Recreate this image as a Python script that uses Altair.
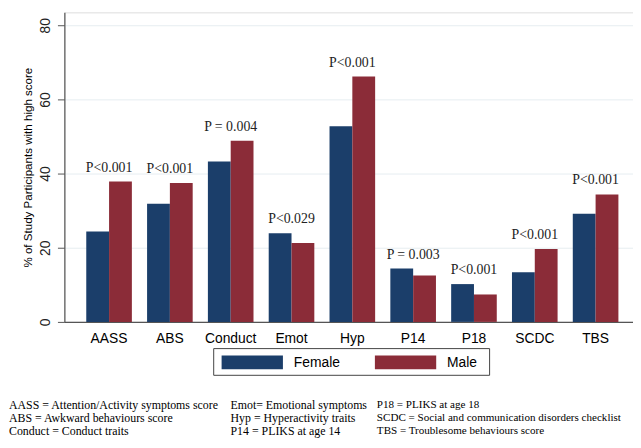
import altair as alt
import pandas as pd

categories = ["AASS", "ABS", "Conduct", "Emot", "Hyp", "P14", "P18", "SCDC", "TBS"]
female = [24.4, 31.9, 43.3, 23.9, 52.8, 14.4, 10.2, 13.4, 29.2]
male = [37.9, 37.5, 48.9, 21.3, 66.2, 12.5, 7.4, 19.7, 34.4]
pvals = ["P<0.001", "P<0.001", "P = 0.004", "P<0.029", "P<0.001",
         "P = 0.003", "P<0.001", "P<0.001", "P<0.001"]
sexes = ["Female", "Male"]
colors = ["#1b3e6a", "#8b2c38"]
y_ticks = [0, 20, 40, 60, 80]

foot_col1 = ["AASS = Attention/Activity  symptoms  score",
             "ABS = Awkward behaviours  score",
             "Conduct = Conduct traits"]
foot_col2 = ["Emot= Emotional  symptoms",
             "Hyp = Hyperactivity  traits",
             "P14 = PLIKS at age 14"]
foot_col3 = ["P18 = PLIKS at age 18",
             "SCDC = Social and communication disorders checklist",
             "TBS = Troublesome  behaviours  score"]

rows = []
for c, f, m in zip(categories, female, male):
    rows.append({"cat": c, "sex": "Female", "val": f})
    rows.append({"cat": c, "sex": "Male", "val": m})
df = pd.DataFrame(rows)
pdf = pd.DataFrame({"cat": categories, "p": pvals,
                    "top": [max(f, m) for f, m in zip(female, male)]})

FONT = "Arial, Liberation Sans"
xscale = alt.Scale(domain=categories, paddingInner=0.25, paddingOuter=0.3, align=0.6)
yscale = alt.Scale(domain=[0, 83.5], nice=False)
cscale = alt.Scale(domain=sexes, range=colors)

bars = alt.Chart(df).mark_bar(stroke=None).encode(
    x=alt.X("cat:N", sort=categories, scale=xscale, title=None,
            axis=alt.Axis(labelAngle=0, labelFont=FONT, labelFontSize=14,
                          labelColor="#000", ticks=False, labelPadding=10,
                          domainColor="#555", domainWidth=1.2)),
    xOffset=alt.XOffset("sex:N", sort=sexes, scale=alt.Scale(paddingInner=0, paddingOuter=0)),
    y=alt.Y("val:Q", scale=yscale,
            title="% of Study Participants with high score",
            axis=alt.Axis(values=y_ticks, labelAngle=270, labelAlign="center",
                          labelBaseline="bottom", labelPadding=5, tickSize=7,
                          tickColor="#555", domainColor="#555", domainWidth=1.2,
                          labelFont=FONT, labelFontSize=14, labelColor="#222",
                          titleFont=FONT, titleFontSize=11.7,
                          titleFontWeight="normal", titleColor="#000", titlePadding=5,
                          gridColor="#e6edf1", gridWidth=1)),
    color=alt.Color("sex:N", sort=sexes, scale=cscale, legend=None),
)

ptext = alt.Chart(pdf).mark_text(font="Liberation Serif", fontSize=14, color="#222",
                                 baseline="bottom", dy=-7).encode(
    x=alt.X("cat:N", sort=categories, scale=xscale),
    y=alt.Y("top:Q", scale=yscale),
    text="p:N",
)

# legend (drawn manually as a framed key below the axis)
legend_box = alt.Chart(pd.DataFrame({"a": [0]})).mark_rect(
    fill="white", stroke="#444", strokeWidth=1).encode(
    x=alt.value(151), x2=alt.value(430), y=alt.value(340), y2=alt.value(367))

def swatch(sex, x0):
    sw = alt.Chart(pd.DataFrame({"sex": [sex]})).mark_rect().encode(
        x=alt.value(x0), x2=alt.value(x0 + 62), y=alt.value(347), y2=alt.value(361),
        color=alt.Color("sex:N", scale=cscale, legend=None))
    lab = alt.Chart(pd.DataFrame({"sex": [sex]})).mark_text(
        font=FONT, fontSize=14, color="#000", align="left", baseline="middle").encode(
        x=alt.value(x0 + 73), y=alt.value(354.5), text="sex:N")
    return sw + lab

def foot(lines, xpos, size=12):
    return alt.Chart(pd.DataFrame({"t": [lines]})).mark_text(
        font="Liberation Serif", fontSize=size, color="#000", align="left",
        baseline="middle", lineHeight=13).encode(
        x=alt.value(xpos), y=alt.value(397.5), text="t")

chart = alt.layer(bars, ptext, legend_box, swatch("Female", 159), swatch("Male", 314),
                  foot(foot_col1, -56), foot(foot_col2, 168), foot(foot_col3, 316, 11.2)).properties(
    width=575, height=313,
    autosize=alt.AutoSizeParams(type="none"),
    padding={"left": 57, "top": 2, "right": 0, "bottom": 117},
).configure_view(stroke=None).configure(background="white")

chart.save("out.html", embed_options={"renderer": "svg", "actions": False})
